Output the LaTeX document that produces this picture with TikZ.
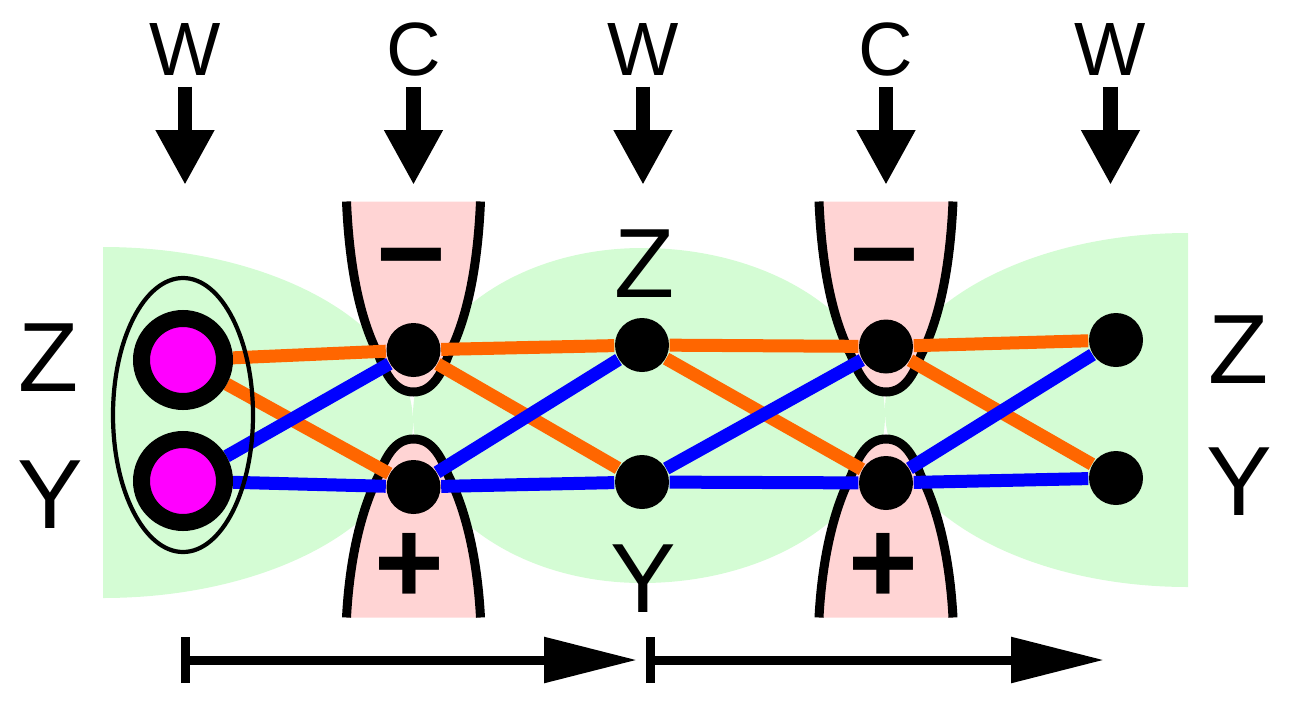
\documentclass[tikz,border=0pt]{standalone}
\usepackage{fontspec}
\setmainfont{Liberation Sans}
\usetikzlibrary{arrows.meta}
\definecolor{fieldgreen}{RGB}{212,252,212}
\definecolor{trappink}{RGB}{255,212,212}
\definecolor{zcolor}{RGB}{255,102,0}
\definecolor{ycolor}{RGB}{0,0,255}
\definecolor{ioncolor}{RGB}{255,0,255}
\pgfdeclarelayer{field}
\pgfdeclarelayer{wires}
\pgfsetlayers{field,wires,main}

\begin{document}
\begin{tikzpicture}[
    dot/.style={circle, fill=black, inner sep=0pt, minimum size=0.54cm},
    ion/.style={circle, draw=black, fill=ioncolor, line width=0.17cm, inner sep=0pt, minimum size=0.83cm},
    zwire/.style={zcolor, line width=0.13cm},
    ywire/.style={ycolor, line width=0.13cm},
    electrode/.style={fill=trappink, draw=black, line width=0.09cm},
    toplabel/.style={inner sep=0pt, anchor=base, font=\fontsize{21.5}{24}\selectfont},
    axlabel/.style={inner sep=0pt, anchor=base, font=\fontsize{28}{32}\selectfont},
    sign/.style={inner sep=0pt, font=\fontsize{34}{36}\selectfont\bfseries},
    pulse/.style={line width=0.145cm, -{Triangle[length=0.55cm, width=0.55cm]}, shorten <=0.11cm},
    stage/.style={line width=0.09cm, {Bar[width=0.46cm]}-{Triangle[length=0.93cm, width=0.44cm]}}
  ]
  \useasboundingbox (0,0) rectangle (12.95,7.06);

  % Field regions and trap electrodes
  \begin{pgfonlayer}{field}
    \fill[fieldgreen] (1.03,4.59) arc[start angle=90, end angle=-90, x radius=3.10, y radius=1.755] -- cycle;
    \fill[fieldgreen] (6.42,4.58) arc[start angle=90, end angle=270, x radius=2.29, y radius=1.675]
      arc[start angle=270, end angle=450, x radius=2.43, y radius=1.675] -- cycle;
    \fill[fieldgreen] (11.88,4.73) arc[start angle=90, end angle=270, x radius=3.03, y radius=1.77] -- cycle;
    \foreach \cx in {4.135,8.86} {
      \begin{scope}[shift={(\cx,2.905)}]
        \filldraw[electrode] (-0.67,2.14) .. controls (-0.64,1.455) and (-0.53,0.955) .. (-0.35,0.605)
          .. controls (-0.28,0.42) and (-0.19,0.235) .. (0,0.235)
          .. controls (0.19,0.235) and (0.28,0.42) .. (0.35,0.605)
          .. controls (0.53,0.955) and (0.64,1.455) .. (0.67,2.14);
        \filldraw[electrode] (-0.67,-2.02) .. controls (-0.64,-1.455) and (-0.53,-0.955) .. (-0.35,-0.605)
          .. controls (-0.28,-0.42) and (-0.19,-0.235) .. (0,-0.235)
          .. controls (0.19,-0.235) and (0.28,-0.42) .. (0.35,-0.605)
          .. controls (0.53,-0.955) and (0.64,-1.455) .. (0.67,-2.02);
      \end{scope}
    }
  \end{pgfonlayer}

  % Signs on the electrodes
  \node[sign] (minA) at (4.11,4.35) {−};
  \node[sign] (minB) at (8.845,4.35) {−};
  \node[sign] (plusA) at (4.09,1.375) {+};
  \node[sign] (plusB) at (8.835,1.375) {+};

  % Ion pair
  \draw[line width=1.2pt] (1.83,2.91) ellipse [x radius=0.70, y radius=1.37];
  \node[ion] (ionz) at (1.83,3.46) {};
  \node[ion] (iony) at (1.83,2.25) {};

  % Sites
  \node[dot] (az) at (4.135,3.56) {};
  \node[dot] (ay) at (4.135,2.19) {};
  \node[dot] (bz) at (6.42,3.61) {};
  \node[dot] (by) at (6.42,2.24) {};
  \node[dot] (cz) at (8.86,3.595) {};
  \node[dot] (cy) at (8.86,2.23) {};
  \node[dot] (dz) at (11.16,3.66) {};
  \node[dot] (dy) at (11.16,2.28) {};

  % Paths of the two ions
  \begin{pgfonlayer}{wires}
    \draw[zwire] (ionz) -- (az) -- (bz) -- (cz) -- (dz);
    \draw[zwire] (ionz) -- (ay);
    \draw[zwire] (az) -- (by);
    \draw[zwire] (bz) -- (cy);
    \draw[zwire] (cz) -- (dy);
    \draw[ywire] (iony) -- (ay) -- (by) -- (cy) -- (dy);
    \draw[ywire] (iony) -- (az);
    \draw[ywire] (ay) -- (bz);
    \draw[ywire] (by) -- (cz);
    \draw[ywire] (cy) -- (dz);
  \end{pgfonlayer}

  % Axis labels
  \node[axlabel] (zleft) at (0.49,3.15) {Z};
  \node[axlabel] (yleft) at (0.50,1.78) {Y};
  \node[axlabel] (zmid) at (6.45,4.09) {Z};
  \node[axlabel] (ymid) at (6.43,0.94) {Y};
  \node[axlabel] (zright) at (12.39,3.23) {Z};
  \node[axlabel] (yright) at (12.39,1.91) {Y};

  % Pulses from above
  \foreach \x/\t [count=\i] in {1.85/W,4.135/C,6.43/W,8.86/C,11.105/W} {
    \node[toplabel] (pulse\i) at (\x,6.31) {\t};
    \coordinate (tip\i) at (\x,5.21);
    \draw[pulse] (pulse\i) -- (tip\i);
  }

  % Transport steps
  \coordinate (s0) at (1.81,0.46);
  \coordinate (s1) at (6.37,0.46);
  \coordinate (s2) at (6.46,0.46);
  \coordinate (s3) at (11.04,0.46);
  \draw[stage] (s0) -- (s1);
  \draw[stage] (s2) -- (s3);
\end{tikzpicture}
\end{document}
